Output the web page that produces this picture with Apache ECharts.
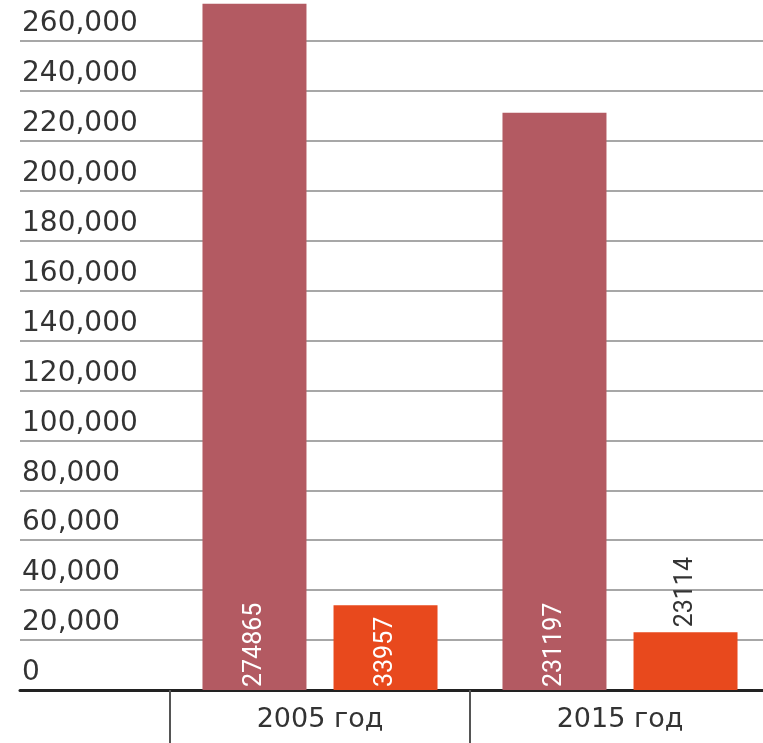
<!DOCTYPE html>
<html>
<head>
<meta charset="utf-8">
<script src="https://cdn.jsdelivr.net/npm/echarts@6/dist/echarts.min.js"></script>
<style>
html,body{margin:0;padding:0;background:#fff;overflow:hidden;width:763px;height:743px;}
#chart{width:780px;height:752px;margin-top:-9px;}
</style>
</head>
<body>
<div id="chart"></div>
<script>
var categories = ['2005 год', '2015 год'];
var seriesA = [274865, 231197];
var seriesB = [33957, 23114];
var yMin = 0, yMax = 280000, yStep = 20000;

var chart = echarts.init(document.getElementById('chart'), null, {renderer: 'canvas'});

var whiteLabel = {
  show: true, position: 'insideBottom', rotate: 90, align: 'left', verticalAlign: 'middle',
  distance: 3, color: '#ffffff', fontSize: 25, fontFamily: 'Roboto'
};
var darkTopLabel = {
  show: true, position: 'top', rotate: 90, align: 'left', verticalAlign: 'middle',
  distance: 5, color: '#333333', fontSize: 25, fontFamily: 'Roboto'
};

var option = {
  backgroundColor: '#ffffff',
  animation: false,
  grid: [
    {left: 20, right: 0, top: 0, bottom: 53, containLabel: false},
    {left: 170, width: 600, top: 0, bottom: 53, containLabel: false}
  ],
  xAxis: [
    {
      gridIndex: 0, type: 'value', min: 0, max: 1,
      axisLine: {show: true, lineStyle: {color: '#222', width: 3}},
      axisTick: {show: false}, axisLabel: {show: false}, splitLine: {show: false}
    },
    {
      gridIndex: 1, type: 'category', data: categories,
      axisLine: {show: false},
      axisTick: {show: true, length: 55, interval: 0, lineStyle: {color: '#555', width: 2}},
      axisLabel: {margin: 16, fontSize: 27, color: '#333', fontFamily: 'DejaVu Sans'},
      splitLine: {show: false}
    }
  ],
  yAxis: [
    {
      gridIndex: 0, type: 'value', min: yMin, max: yMax, interval: yStep,
      axisLine: {show: false}, axisTick: {show: false},
      axisLabel: {
        inside: true, margin: 2, verticalAlign: 'bottom', padding: [0, 0, 3, 0],
        fontSize: 28, color: '#333', fontFamily: 'DejaVu Sans',
        showMaxLabel: false,
        formatter: function (v) { return v.toLocaleString('en-US'); }
      },
      splitLine: {show: true, lineStyle: {color: '#8a8a8a', width: 1.5}}
    },
    {
      gridIndex: 1, type: 'value', min: yMin, max: yMax, interval: yStep, show: false
    }
  ],
  series: [
    {
      type: 'bar', xAxisIndex: 1, yAxisIndex: 1, data: seriesA,
      barWidth: 104, barGap: '26%',
      itemStyle: {color: '#b35a62'},
      label: whiteLabel
    },
    {
      type: 'bar', xAxisIndex: 1, yAxisIndex: 1,
      data: [
        {value: seriesB[0], label: whiteLabel},
        {value: seriesB[1], label: darkTopLabel}
      ],
      barWidth: 104, barGap: '26%',
      itemStyle: {color: '#e8491d'}
    }
  ]
};
chart.setOption(option);
</script>
</body>
</html>
